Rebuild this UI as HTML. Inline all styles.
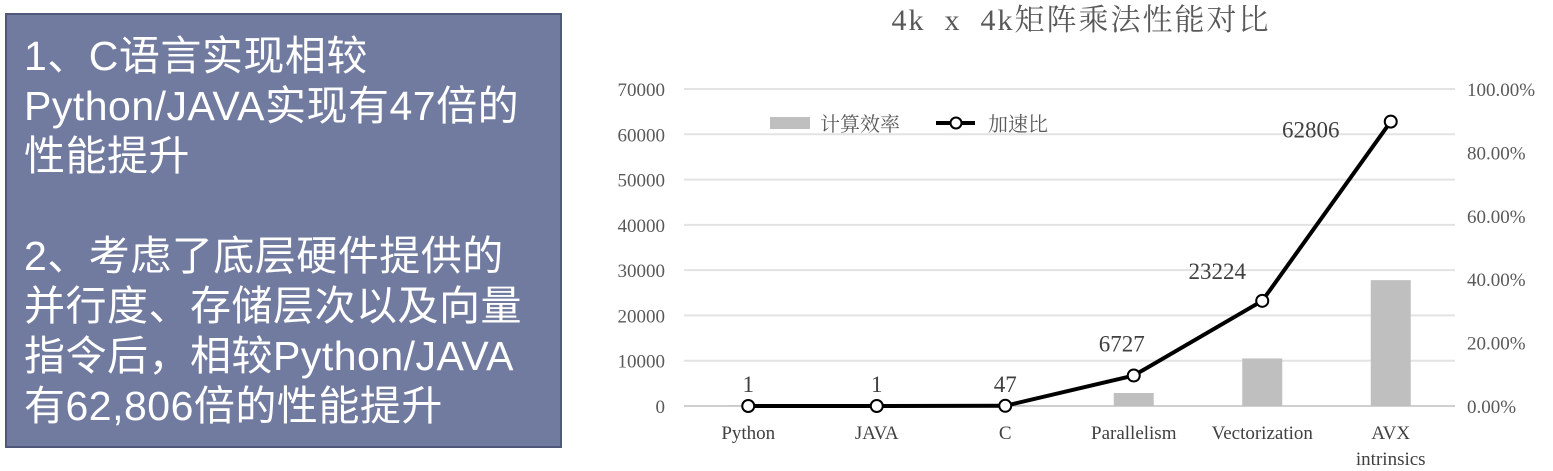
<!DOCTYPE html>
<html><head><meta charset="utf-8">
<style>
html,body{margin:0;padding:0;background:#fff;width:1553px;height:471px;overflow:hidden}
#box{position:absolute;left:5px;top:13px;width:553px;height:431px;background:#717a9f;border:2px solid #4f5878;box-sizing:content-box}
#box p{margin:0;position:absolute;left:17px;top:16px;color:#fff;font-family:"Liberation Sans","Noto Sans CJK SC",sans-serif;font-size:41px;line-height:50px;white-space:nowrap;letter-spacing:0.5px}
svg{position:absolute;left:0;top:0}
</style></head><body>
<div id="box"><p>1、C语言实现相较<br>Python/JAVA实现有47倍的<br>性能提升<br><br>2、考虑了底层硬件提供的<br>并行度、存储层次以及向量<br>指令后，相较Python/JAVA<br>有62,806倍的性能提升</p></div>
<svg id="chart" width="1553" height="471">
<text x="1081" y="30" text-anchor="middle" font-family="'Liberation Serif','Noto Serif CJK SC',serif" font-size="30" fill="#595959" letter-spacing="2" xml:space="preserve">4k  x  4k矩阵乘法性能对比</text>
<g id="grid"></g><g id="bars"></g><g id="line"></g><g id="labels"></g>
<g font-family="'Liberation Serif','Noto Serif CJK SC',serif" font-size="20" fill="#595959">
<rect x="770" y="117" width="40" height="12" fill="#bfbfbf"/>
<text x="820" y="131">计算效率</text>
<line x1="936" y1="123" x2="975" y2="123" stroke="#000" stroke-width="4"/>
<circle cx="956" cy="123" r="5.5" fill="#fff" stroke="#000" stroke-width="2"/>
<text x="988" y="131">加速比</text>
</g>
</svg>
<script>
const categories=["Python","JAVA","C","Parallelism","Vectorization","AVX|intrinsics"];
const speedup=[1,1,47,6727,23224,62806];
const efficiency=[0.1,0.1,0.3,4.1,15.0,39.7];
const leftTicks=[0,10000,20000,30000,40000,50000,60000,70000];
const rightTicks=["0.00%","20.00%","40.00%","60.00%","80.00%","100.00%"];
const NS="http://www.w3.org/2000/svg";
const X0=684,X1=1455,Y0=406,Y1=89;
const bw=(X1-X0)/categories.length;
const xc=i=>X0+bw*(i+0.5);
const yL=v=>Y0-(v/70000)*(Y0-Y1);
const yR=v=>Y0-(v/100)*(Y0-Y1);
function mk(t,a,p){const e=document.createElementNS(NS,t);for(const k in a)e.setAttribute(k,a[k]);p.appendChild(e);return e;}
const F="'Liberation Serif','Noto Serif CJK SC',serif";
const grid=document.getElementById('grid');
leftTicks.forEach(v=>{
  const l=mk('line',{x1:X0,x2:X1,y1:yL(v),y2:yL(v),stroke:v===0?'#d0d0d0':'#e3e3e3','stroke-width':2},grid);
  
  
  const t=mk('text',{x:665,y:yL(v)+7,'text-anchor':'end','font-family':F,'font-size':19,fill:'#595959'},grid);
  t.textContent=v;
  
  
});
rightTicks.forEach((s,i)=>{
  const t=mk('text',{x:1467,y:yR(i*20)+7,'font-family':F,'font-size':19,fill:'#595959'},grid);
  t.textContent=s;
  
  
});
categories.forEach((c,i)=>{
  c.split('|').forEach((p,j)=>{
    const t=mk('text',{x:xc(i),y:439+j*26,'text-anchor':'middle','font-family':F,'font-size':19,fill:'#404040'},grid);
    t.textContent=p;
    
    
  });
});
const bars=document.getElementById('bars');
efficiency.forEach((v,i)=>{
  const r=mk('rect',{x:xc(i)-20,y:yR(v),width:40,height:Y0-yR(v),fill:'#bfbfbf'},bars);
  
  
});
const lg=document.getElementById('line');
const pts=speedup.map((v,i)=>xc(i)+','+yL(v)).join(' ');
const pl=mk('polyline',{points:pts,fill:'none',stroke:'#000','stroke-width':4,'stroke-linejoin':'round'},lg);


const offx=[0,0,0,-12,-45,-80];
const offy=[-14,-14,-14,-24,-22,16];
const lab=document.getElementById('labels');
speedup.forEach((v,i)=>{
  const c=mk('circle',{cx:xc(i),cy:yL(v),r:6,fill:'#fff',stroke:'#000','stroke-width':2},lg);
  
  
  const t=mk('text',{x:xc(i)+offx[i],y:yL(v)+offy[i],'text-anchor':'middle','font-family':F,'font-size':23,fill:'#404040'},lab);
  t.textContent=v;
  
  
});
</script>
</body></html>
